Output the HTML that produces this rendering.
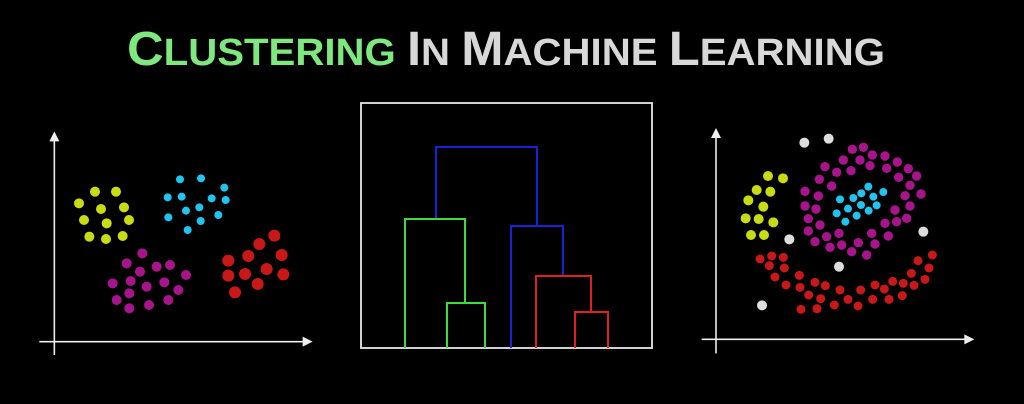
<!DOCTYPE html>
<html><head><meta charset="utf-8"><style>
html,body{margin:0;padding:0;background:#000;width:1024px;height:404px;overflow:hidden}
svg{display:block}
</style></head><body>
<svg id="root" width="1024" height="404" viewBox="0 0 1024 404">
<rect width="1024" height="404" fill="#000"/>
<text x="127" y="65" textLength="758" lengthAdjust="spacingAndGlyphs" font-family="Liberation Sans, sans-serif" font-weight="bold" font-size="38"><tspan fill="#7ee87e" font-size="48">C</tspan><tspan fill="#7ee87e">LUSTERING</tspan><tspan fill="#d8d8d8"> </tspan><tspan fill="#d8d8d8" font-size="48">I</tspan><tspan fill="#d8d8d8">N </tspan><tspan fill="#d8d8d8" font-size="48">M</tspan><tspan fill="#d8d8d8">ACHINE </tspan><tspan fill="#d8d8d8" font-size="48">L</tspan><tspan fill="#d8d8d8">EARNING</tspan></text>
<g id="left"></g>
<g id="mid"></g>
<g id="right"></g>
</svg>
<script>
const NS="http://www.w3.org/2000/svg";
// Left panel clusters (zoom-space coordinates, 3x scale of panel origin 30,120)
const leftYellow=[[147,250],[195,215],[258,215],[213,267],[282,262],[162,300],[230,310],[297,300],[178,350],[228,357],[278,348]];
const leftCyan=[[450,178],[513,175],[583,203],[413,232],[455,230],[545,235],[587,240],[468,272],[508,262],[415,292],[512,303],[565,285],[473,330]];
const leftMagenta=[[337,400],[290,430],[330,455],[380,440],[420,435],[468,465],[248,490],[302,483],[350,500],[403,487],[445,510],[298,520],[260,540],[357,555],[415,540],[298,565]];
const leftRed=[[733,347],[688,372],[655,408],[755,405],[595,422],[710,447],[645,462],[595,467],[760,463],[683,492],[615,517]];
// Right panel clusters (origin 690,120)
const rightGray=[[343,68],[416,56],[298,358],[700,335],[447,440],[216,556]];
const rightYellow=[[234,168],[279,175],[200,210],[241,215],[175,241],[220,260],[167,295],[206,297],[250,307],[183,345],[222,345]];
const rightCyan=[[535,200],[580,216],[514,220],[490,234],[450,238],[550,230],[513,255],[560,256],[474,266],[536,272],[440,280],[500,287],[466,305]];
const rightMagenta=[[487,88],[520,82],[547,105],[585,108],[622,126],[460,120],[510,120],[540,137],[590,145],[655,146],[405,140],[440,157],[483,152],[626,172],[680,168],[388,178],[425,198],[660,196],[345,214],[385,228],[645,227],[693,222],[345,258],[378,267],[660,258],[615,270],[355,296],[390,315],[585,310],[650,295],[620,305],[355,333],[410,350],[447,340],[545,340],[595,348],[375,365],[455,375],[505,368],[555,372],[420,382],[485,395],[530,405]];
const rightRed=[[210,417],[245,408],[280,412],[238,437],[283,444],[255,471],[328,466],[288,495],[330,502],[375,487],[406,497],[356,525],[392,536],[450,510],[512,510],[555,495],[583,507],[608,484],[640,490],[672,496],[664,460],[684,422],[727,405],[717,444],[705,478],[474,538],[504,558],[548,538],[597,538],[637,527],[333,568],[381,566],[433,555]];
// Dendrogram merges: [leftX, rightX, mergeHeight, leftChildTop, rightChildTop, color]
const merges=[[436,537,147,219,226,"#1a22d8"],[405,465,219,348,303,"#3ddc3d"],[447,485,303,348,348,"#3ddc3d"],[511,563,226,348,276,"#1a22d8"],[536,591,276,348,312,"#e02020"],[575,608,312,348,348,"#e02020"]];

function el(tag,attrs,parent){const e=document.createElementNS(NS,tag);for(const k in attrs)e.setAttribute(k,attrs[k]);parent.appendChild(e);return e;}
function sx(ox,z){return ox+z/3;}
function drawDots(g,ox,oy,arr,color,r,name){
  arr.forEach(p=>{
    const c=el("circle",{cx:sx(ox,p[0]),cy:sx(oy,p[1]),r:r,fill:color},g);
    
    
  });
}
function axes(g,ox,oy,ax,ay0,ay1,bx0,bx1,by){
  const s="#eee";
  const y=el("line",{x1:sx(ox,ax),y1:sx(oy,ay0)+6,x2:sx(ox,ax),y2:sx(oy,ay1),stroke:s,"stroke-width":1.6},g);
  
  
  const ya=el("polygon",{points:`${sx(ox,ax)-5},${sx(oy,ay0)+8} ${sx(ox,ax)+5},${sx(oy,ay0)+8} ${sx(ox,ax)},${sx(oy,ay0)-2}`,fill:s},g);
  
  
  const x=el("line",{x1:sx(ox,bx0),y1:sx(oy,by),x2:sx(ox,bx1)-6,y2:sx(oy,by),stroke:s,"stroke-width":1.6},g);
  
  
  const xa=el("polygon",{points:`${sx(ox,bx1)-9},${sx(oy,by)-5} ${sx(ox,bx1)-9},${sx(oy,by)+5} ${sx(ox,bx1)+1},${sx(oy,by)}`,fill:s},g);
  
  
}
const L=document.getElementById("left");
axes(L,30,120,73,40,705,28,845,665);
drawDots(L,30,120,leftYellow,"#c8dc14",5,"yellow-cluster-point");
drawDots(L,30,120,leftCyan,"#20c4f0",4,"cyan-cluster-point");
drawDots(L,30,120,leftMagenta,"#a8148c",5,"magenta-cluster-point");
drawDots(L,30,120,leftRed,"#c81818",6,"red-cluster-point");

const R=document.getElementById("right");
axes(R,690,120,78,30,700,35,850,658);
drawDots(R,690,120,rightGray,"#dddddd",5,"noise-point");
drawDots(R,690,120,rightYellow,"#c8dc14",5,"yellow-cluster-point");
drawDots(R,690,120,rightCyan,"#20c4f0",4,"cyan-cluster-point");
drawDots(R,690,120,rightMagenta,"#a8148c",4.7,"magenta-cluster-point");
drawDots(R,690,120,rightRed,"#c81818",4.5,"red-cluster-point");

const M=document.getElementById("mid");
const box=el("rect",{x:361,y:103,width:291,height:245,fill:"none",stroke:"#e8e8e8","stroke-width":1.8},M);


merges.forEach(m=>{
  const p=el("polyline",{points:`${m[0]},${m[3]} ${m[0]},${m[2]} ${m[1]},${m[2]} ${m[1]},${m[4]}`,fill:"none",stroke:m[5],"stroke-width":2},M);
  
  
});
</script>
</body></html>
